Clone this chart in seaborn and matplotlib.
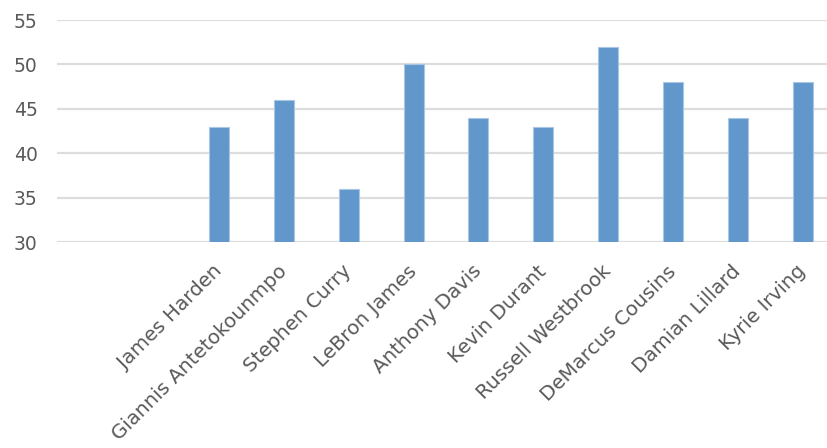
import matplotlib
matplotlib.use("Agg")
import matplotlib.pyplot as plt
import seaborn as sns
import pandas as pd

players = ["James Harden", "Giannis Antetokounmpo", "Stephen Curry", "LeBron James",
           "Anthony Davis", "Kevin Durant", "Russell Westbrook", "DeMarcus Cousins",
           "Damian Lillard", "Kyrie Irving"]
points = [43, 46, 36, 50, 44, 43, 52, 48, 44, 48]
blank_slots = ["", " "]
y_ticks = [30, 35, 40, 45, 50, 55]

sns.set_theme(style="white")
plt.rcParams['font.family'] = ['DejaVu Sans']

df = pd.DataFrame({"player": players, "points": points})
order = blank_slots + players

fig = plt.figure(figsize=(8.27, 4.48), dpi=100)
W, H = 827, 448
ax = fig.add_axes([57 / W, (H - 242) / H, (827 - 57) / W, (242 - 20) / H])

sns.barplot(data=df, x="player", y="points", order=order, color="#6197CA",
            width=20 / 65, saturation=1, edgecolor="#A9C6E6", linewidth=0.8, ax=ax)

ax.set_ylim(30, 55)
ax.set_yticks(y_ticks)
ax.set_xlim(-0.5, 11.5 - 8 / 65)
ax.yaxis.grid(True, color="#DDDDDD", linewidth=1.6)
ax.set_axisbelow(True)
for s in ["top", "right", "left", "bottom"]:
    ax.spines[s].set_visible(False)
ax.set_xlabel("")
ax.set_ylabel("")
ax.tick_params(axis="both", length=0, colors="#595959")
ax.tick_params(axis="y", pad=14, labelsize=13.5)
ax.tick_params(axis="x", pad=19, labelsize=14.3)
for lbl in ax.get_xticklabels():
    lbl.set_rotation(45)
    lbl.set_ha("right")
    lbl.set_va("center")
    lbl.set_rotation_mode("anchor")

fig.savefig("out.png", dpi=100)
